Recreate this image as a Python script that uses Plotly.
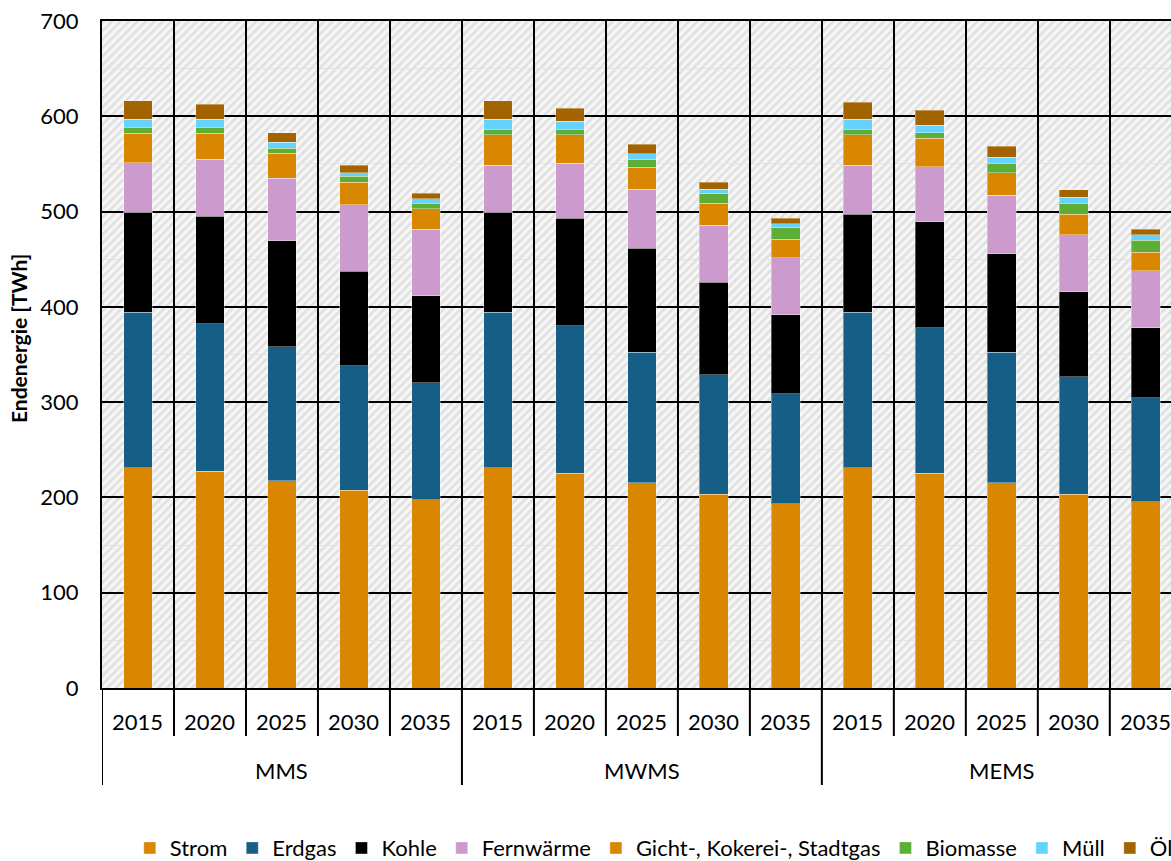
import base64
import plotly.graph_objects as go

# Scenarios and reference years
scenarios = ["MMS", "MWMS", "MEMS"]
years = ["2015", "2020", "2025", "2030", "2035"]

# Final energy demand by carrier [TWh]; each list runs MMS 2015..2035, MWMS 2015..2035, MEMS 2015..2035
strom = [231.3, 227.5, 217.3, 207.5, 197.7,
         231.3, 225.4, 215.2, 203.4, 193.5,
         231.3, 225.4, 215.2, 203.4, 195.3]
erdgas = [162.8, 154.7, 141.1, 130.9, 122.9,
          162.8, 154.7, 137.3, 125.2, 115.2,
          162.8, 152.6, 137.3, 123.1, 109.2]
kohle = [105.4, 113.0, 110.9, 99.1, 91.0,
         105.4, 113.1, 109.1, 97.0, 82.9,
         102.9, 111.3, 103.2, 89.6, 73.5]
fernwaerme = [51.7, 59.9, 65.9, 69.6, 70.0,
              49.3, 57.7, 61.6, 59.8, 59.9,
              51.8, 57.7, 61.6, 59.5, 59.8]
gichtgas = [31.2, 27.3, 26.2, 23.9, 21.4,
            31.8, 29.7, 23.5, 23.5, 19.6,
            31.8, 29.8, 23.4, 21.7, 19.3]
biomasse = [5.9, 5.9, 5.3, 5.9, 5.9,
            5.6, 5.6, 7.7, 9.8, 11.9,
            5.6, 5.9, 9.8, 11.6, 12.6]
muell = [8.4, 8.4, 5.9, 3.8, 4.5,
         10.5, 8.4, 6.3, 4.5, 4.2,
         10.5, 8.1, 6.3, 6.3, 5.9]
oel = [19.6, 15.8, 10.1, 8.1, 5.6,
       19.6, 13.7, 9.8, 7.8, 6.0,
       17.9, 15.7, 11.9, 7.7, 5.6]

series = [
    ("Strom", strom, "#D98700"),
    ("Erdgas", erdgas, "#155E86"),
    ("Kohle", kohle, "#000000"),
    ("Fernwärme", fernwaerme, "#CD9ACD"),
    ("Gicht-, Kokerei-, Stadtgas", gichtgas, "#D98700"),
    ("Biomasse", biomasse, "#5DAE37"),
    ("Müll", muell, "#66D3FF"),
    ("Öl", oel, "#A36400"),
]

x_outer = [s for s in scenarios for _ in years]
x_inner = [y for _ in scenarios for y in years]

FONT = "Lato"
W, H = 1171, 861
M_L, M_R, M_T, M_B = 102, 0, 21, 173
PLOT_W, PLOT_H = W - M_L - M_R, H - M_T - M_B
X_RANGE = [-0.5, 14.35]

fig = go.Figure()
for name, vals, color in series:
    fig.add_trace(go.Bar(
        x=[x_outer, x_inner], y=vals, name=name,
        marker=dict(color=color, line=dict(color="rgba(255,255,255,0.35)", width=1)),
    ))

# Hatched plot-area background, drawn beneath the gridlines
svg = (
    f"<svg xmlns='http://www.w3.org/2000/svg' width='{PLOT_W}' height='{PLOT_H}'>"
    "<defs><pattern id='h' width='6' height='6' patternUnits='userSpaceOnUse' "
    "patternTransform='rotate(45)'>"
    "<rect width='6' height='6' fill='#f6f6f6'/>"
    "<rect width='2.6' height='6' fill='#e0e0e0'/>"
    "</pattern></defs>"
    "<rect width='100%' height='100%' fill='url(#h)'/></svg>"
)
svg_uri = "data:image/svg+xml;base64," + base64.b64encode(svg.encode()).decode()
fig.add_layout_image(dict(
    source=svg_uri, xref="paper", yref="paper", x=0, y=1,
    sizex=1, sizey=1, sizing="stretch", xanchor="left", yanchor="top", layer="below",
))


def cat_to_paper(pos):
    return (pos - X_RANGE[0]) / (X_RANGE[1] - X_RANGE[0])


# Two-level category labels and separators below the axis
n_cat = len(x_inner)
short_len = 48 / PLOT_H
long_len = 97 / PLOT_H
for i in range(n_cat + 1):
    pos = i - 0.5
    is_group_edge = (i % len(years) == 0)
    fig.add_shape(
        type="line", xref="x", yref="paper",
        x0=pos, x1=pos, y0=0, y1=-(long_len if is_group_edge else short_len),
        line=dict(color="black", width=2), layer="above",
    )
for i, yr in enumerate(x_inner):
    fig.add_annotation(
        text=yr, xref="paper", yref="paper", x=cat_to_paper(i), y=-34 / PLOT_H,
        xanchor="center", yanchor="middle", showarrow=False,
        font=dict(family=FONT, size=22, color="black"),
    )
for g, scen in enumerate(scenarios):
    centre = g * len(years) + (len(years) - 1) / 2
    fig.add_annotation(
        text=scen, xref="paper", yref="paper", x=cat_to_paper(centre), y=-82 / PLOT_H,
        xanchor="center", yanchor="middle", showarrow=False,
        font=dict(family=FONT, size=22, color="black"),
    )

# Rotated y-axis title
fig.add_annotation(
    text="<b>Endenergie [TWh]</b>", textangle=-90,
    xref="paper", yref="paper", x=(18 - M_L) / PLOT_W, y=(688 - 339) / PLOT_H,
    xanchor="center", yanchor="middle", showarrow=False,
    font=dict(family=FONT, size=21, color="black"),
)

fig.update_layout(
    width=W, height=H,
    margin=dict(l=M_L, r=M_R, t=M_T, b=M_B, autoexpand=False),
    barmode="stack", bargap=0.6,
    paper_bgcolor="white", plot_bgcolor="rgba(0,0,0,0)",
    font=dict(family=FONT, size=22, color="black"),
    legend=dict(
        orientation="h", x=0.026, xanchor="left", y=-0.24, yanchor="middle",
        font=dict(family=FONT, size=22), itemwidth=30, traceorder="normal",
    ),
)

fig.update_xaxes(
    type="multicategory", range=X_RANGE,
    tickson="boundaries", ticks="", showticklabels=False,
    showgrid=True, gridcolor="black", gridwidth=2,
    showdividers=False,
    showline=True, linecolor="black", linewidth=2, mirror=True,
    automargin=False,
)
fig.update_yaxes(
    range=[0, 700], dtick=100, tick0=0,
    showgrid=True, gridcolor="black", gridwidth=2,
    minor=dict(dtick=50, showgrid=True, gridcolor="#e4e4e4", gridwidth=1),
    showline=True, linecolor="black", linewidth=2,
    ticks="outside", ticklen=17, tickcolor="rgba(0,0,0,0)",
    zeroline=False,
    tickfont=dict(family=FONT, size=22),
    automargin=False,
)

fig.write_html("out.html")
